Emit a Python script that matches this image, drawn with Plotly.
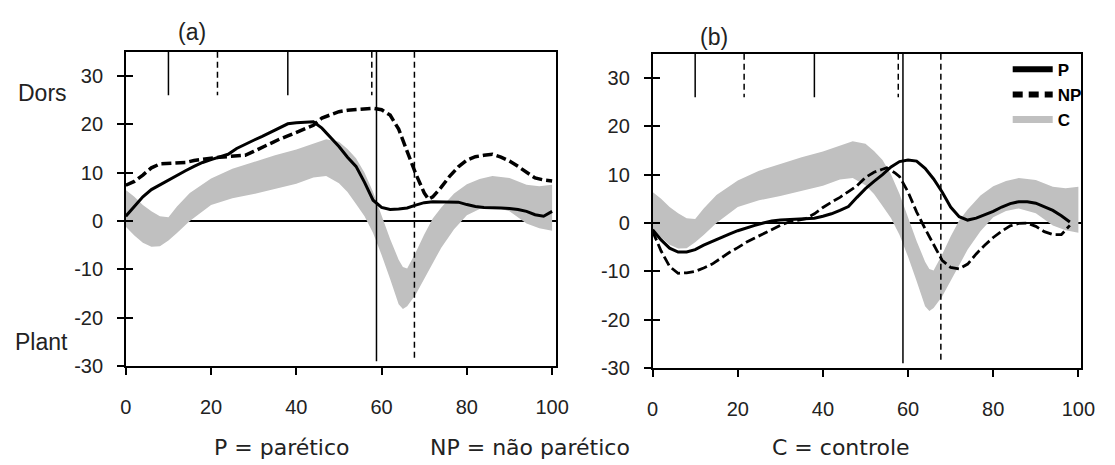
import plotly.graph_objects as go

# ---------------- data ----------------
# Panel (a): paretic (P) and non-paretic (NP) ankle angle, % of gait cycle
pa_x = [0, 2, 4, 6, 8, 10, 12, 14, 16, 18, 20, 22, 24, 26, 28, 30, 32, 34, 36, 38, 40, 42, 44,
        46, 48, 50, 52, 54, 56, 58, 60, 62, 64, 66, 68, 70, 72, 74, 76, 78, 80, 82, 84, 86, 88,
        90, 92, 94, 96, 98, 100]
pa_y = [1.0, 3.0, 5.0, 6.5, 7.5, 8.4, 9.5, 10.4, 11.3, 12.1, 12.7, 13.2, 13.8, 15.0, 15.9, 16.7,
        17.5, 18.4, 19.3, 20.1, 20.3, 20.4, 20.5, 19.2, 17.4, 15.4, 13.2, 11.3, 8.0, 4.3, 2.8, 2.4,
        2.5, 2.7, 3.3, 3.8, 4.0, 4.0, 4.0, 3.9, 3.4, 3.0, 2.8, 2.8, 2.7, 2.6, 2.4, 2.0, 1.3, 1.0, 2.0]

npa_x = [0, 2, 4, 6, 8, 10, 12, 14, 16, 18, 20, 22, 24, 26, 28, 30, 32, 34, 36, 38, 40, 42, 44,
         46, 48, 50, 52, 54, 56, 58, 60, 62, 64, 66, 68, 70, 71, 72, 74, 76, 78, 80, 82, 84, 86,
         88, 90, 92, 94, 96, 98, 100]
npa_y = [7.4, 8.2, 9.5, 11.0, 11.8, 11.9, 11.9, 12.1, 12.5, 12.8, 13.0, 13.2, 13.3, 13.4, 13.6,
         14.4, 15.3, 16.2, 16.9, 17.6, 18.3, 19.0, 19.8, 21.3, 22.0, 22.6, 22.9, 23.0, 23.2, 23.3,
         23.0, 21.9, 19.0, 14.2, 9.8, 5.8, 4.5, 5.0, 7.0, 9.3, 11.2, 12.6, 13.3, 13.6, 13.8, 13.2,
         12.4, 11.3, 10.0, 8.9, 8.5, 8.3]

# Panel (b)
pb_x = [0, 2, 4, 6, 8, 10, 12, 14, 16, 18, 20, 22, 24, 26, 28, 30, 32, 34, 36, 38, 40, 42, 44,
        46, 48, 50, 52, 54, 56, 58, 60, 62, 64, 66, 68, 70, 72, 74, 76, 78, 80, 82, 84, 86, 88,
        90, 92, 94, 96, 98]
pb_y = [-1.4, -3.5, -5.2, -6.0, -6.0, -5.5, -4.6, -3.8, -3.0, -2.3, -1.6, -1.0, -0.5, 0.0, 0.4,
        0.6, 0.7, 0.8, 0.9, 1.0, 1.4, 1.9, 2.6, 3.4, 5.3, 7.1, 8.6, 10.0, 11.6, 12.7, 13.0, 12.8,
        11.3, 9.1, 6.4, 3.3, 1.3, 0.6, 1.0, 1.7, 2.4, 3.3, 4.0, 4.4, 4.4, 4.1, 3.4, 2.6, 1.5, 0.2]

npb_x = [0, 2, 4, 6, 8, 10, 12, 14, 16, 18, 20, 22, 24, 26, 28, 30, 32, 34, 36, 38, 40, 42, 44,
         46, 48, 50, 52, 54, 55, 57, 58, 60, 62, 64, 66, 68, 70, 72, 74, 76, 78, 80, 82, 84, 86,
         88, 90, 92, 94, 96, 98]
npb_y = [-1.7, -5.8, -9.0, -10.4, -10.3, -10.0, -9.3, -8.5, -7.3, -6.1, -5.1, -4.0, -3.1, -2.2,
         -1.4, -0.5, 0.2, 0.6, 0.9, 1.9, 3.2, 4.3, 5.3, 6.5, 7.7, 9.4, 10.5, 11.1, 11.4, 10.3, 9.6,
         6.4, 2.3, -1.2, -4.3, -7.7, -9.2, -9.5, -8.5, -6.4, -4.6, -3.0, -1.7, -0.6, -0.1, 0.0,
         -0.7, -1.8, -2.4, -2.4, -0.5]

# Control group (C) band: upper and lower limits
c_x = [0, 2, 4, 6, 8, 10, 12, 15, 20, 25, 30, 35, 40, 44, 47, 50, 52, 54, 56, 58, 60, 62, 64,
       65, 66, 68, 70, 72, 74, 77, 80, 83, 86, 90, 94, 97, 100]
c_upper = [6.4, 5.0, 3.3, 2.0, 1.0, 0.8, 3.0, 5.8, 8.8, 10.8, 12.2, 13.6, 14.8, 16.0, 16.9, 16.4,
           14.9, 13.0, 10.0, 6.0, 1.1, -3.7, -8.0, -9.5, -9.8, -6.5, -2.8, 0.5, 2.8, 5.7, 7.6,
           8.7, 9.3, 8.9, 7.5, 7.2, 7.5]
c_lower = [-1.2, -3.0, -4.5, -5.3, -5.2, -4.0, -2.5, 0.0, 3.3, 4.7, 5.6, 6.7, 7.7, 9.0, 9.3, 7.8,
           6.0, 3.5, 1.0, -2.5, -7.0, -12.0, -17.2, -18.2, -17.6, -15.2, -12.0, -8.5, -5.5, -1.7,
           1.2, 2.5, 3.0, 2.0, -0.5, -1.5, -2.0]

# Gait events (% cycle): P events solid, NP events dashed
ev_p_short = [10, 38]
ev_np_short = [21.5, 57.7]
ev_p_full = 58.8
ev_np_full = 67.7
ev_top = 35
ev_short_bottom = 26
ev_full_bottom = -29

y_ticks = [-30, -20, -10, 0, 10, 20, 30]
y_ticktext = ["-30", "-20", "-10", "0", "10", "20", "30"]
x_ticks = [0, 20, 40, 60, 80, 100]

GRAY = "rgb(192,192,192)"
W, H = 1115, 465

fig = go.Figure()


def add_panel(xa, ya, ya_ev, p_x, p_y, np_x, np_y, np_width):
    # control band
    fig.add_trace(go.Scatter(x=c_x, y=c_lower, mode="lines", line=dict(width=0, color=GRAY),
                             xaxis=xa, yaxis=ya, showlegend=False, hoverinfo="skip"))
    fig.add_trace(go.Scatter(x=c_x, y=c_upper, mode="lines", line=dict(width=0, color=GRAY),
                             fill="tonexty", fillcolor=GRAY, xaxis=xa, yaxis=ya,
                             showlegend=False, hoverinfo="skip"))
    # events
    for ex in ev_p_short:
        fig.add_trace(go.Scatter(x=[ex, ex], y=[ev_top, ev_short_bottom], mode="lines",
                                 line=dict(color="black", width=1.5), xaxis=xa, yaxis=ya_ev,
                                 showlegend=False, hoverinfo="skip"))
    for ex in ev_np_short:
        fig.add_trace(go.Scatter(x=[ex, ex], y=[ev_top, ev_short_bottom], mode="lines",
                                 line=dict(color="black", width=1.5, dash="6px,4px"),
                                 xaxis=xa, yaxis=ya_ev, showlegend=False, hoverinfo="skip"))
    fig.add_trace(go.Scatter(x=[ev_p_full, ev_p_full], y=[ev_top, ev_full_bottom], mode="lines",
                             line=dict(color="black", width=1.5), xaxis=xa, yaxis=ya_ev,
                             showlegend=False, hoverinfo="skip"))
    fig.add_trace(go.Scatter(x=[ev_np_full, ev_np_full], y=[ev_top, ev_full_bottom],
                             mode="lines", line=dict(color="black", width=1.5, dash="6px,4px"),
                             xaxis=xa, yaxis=ya_ev, showlegend=False, hoverinfo="skip"))
    # curves
    fig.add_trace(go.Scatter(x=np_x, y=np_y, mode="lines",
                             line=dict(color="black", width=np_width, dash="10px,4px"),
                             xaxis=xa, yaxis=ya, showlegend=False))
    fig.add_trace(go.Scatter(x=p_x, y=p_y, mode="lines", line=dict(color="black", width=3),
                             xaxis=xa, yaxis=ya, showlegend=False))


add_panel("x", "y", "y3", pa_x, pa_y, npa_x, npa_y, 3.5)
add_panel("x2", "y2", "y4", pb_x, pb_y, npb_x, npb_y, 2.8)

# legend entries (symbols only)
fig.add_trace(go.Scatter(x=[None], y=[None], mode="lines", name="P",
                         line=dict(color="black", width=6), xaxis="x2", yaxis="y2"))
fig.add_trace(go.Scatter(x=[None], y=[None], mode="lines", name="NP",
                         line=dict(color="black", width=6, dash="10px,6px"), xaxis="x2", yaxis="y2"))
fig.add_trace(go.Scatter(x=[None], y=[None], mode="lines", name="C",
                         line=dict(color=GRAY, width=7), xaxis="x2", yaxis="y2"))

tickfont = dict(family="Liberation Sans, Arial, sans-serif", size=20, color="#222")


def xaxis_cfg(domain, rng, anchor):
    return dict(domain=domain, range=rng, anchor=anchor, tickvals=x_ticks, ticks="outside",
                ticklen=7, tickwidth=1.5, tickcolor="black", showline=True, mirror=True,
                linecolor="black", linewidth=1.5, showgrid=False, zeroline=False,
                tickfont=tickfont, ticklabelstandoff=15, fixedrange=True)


def yaxis_cfg(domain, anchor):
    return dict(domain=domain, range=[-30, 35], anchor=anchor, tickvals=y_ticks,
                ticktext=y_ticktext, ticks="outside", ticklen=7, tickwidth=1.5,
                tickcolor="black", showline=True, mirror=True, linecolor="black",
                linewidth=1.5, showgrid=False, zeroline=True, zerolinecolor="black",
                zerolinewidth=1.5, tickfont=tickfont, ticklabelstandoff=10,
                layer="above traces", fixedrange=True)


def yaxis_inner(over, anchor):
    return dict(overlaying=over, anchor=anchor, range=[-30, 35], tickvals=y_ticks,
                ticks="inside", ticklen=7, tickwidth=1.5, tickcolor="black",
                showticklabels=False, showline=False, showgrid=False, zeroline=False,
                fixedrange=True)


ya_dom = [1 - 375 / H, 1 - 53 / H]
yb_dom = [1 - 377 / H, 1 - 55 / H]

fig.update_layout(
    width=W, height=H,
    margin=dict(l=0, r=0, t=0, b=0),
    paper_bgcolor="white", plot_bgcolor="white",
    xaxis=xaxis_cfg([122 / W, 560 / W], [0, 100.9], "y"),
    yaxis=yaxis_cfg(ya_dom, "x"),
    xaxis2=xaxis_cfg([658.4 / W, 1095 / W], [0, 100.7], "y2"),
    yaxis2=yaxis_cfg(yb_dom, "x2"),
    yaxis3=yaxis_inner("y", "x"),
    yaxis4=yaxis_inner("y2", "x2"),
    showlegend=True,
    legend=dict(x=1020 / W, y=1 - 53 / H, xanchor="left", yanchor="top",
                bgcolor="rgba(0,0,0,0)", itemwidth=40, tracegroupgap=0,
                traceorder="normal",
                font=dict(family="Liberation Sans, Arial, sans-serif", size=17, color="black",
                          weight="bold")),
)

annot_font = dict(family="Liberation Sans, Arial, sans-serif", size=23, color="#222")
bottom_font = dict(family="DejaVu Sans, sans-serif", size=22, color="#222")
annots = [
    ("(a)", 189, 33, annot_font),
    ("(b)", 721, 38, annot_font),
    ("Dors", 37, 95, annot_font),
    ("Plant", 36, 350, annot_font),
    ("P = parético", 281, 458, bottom_font),
    ("NP = não parético", 534, 458, bottom_font),
    ("C = controle", 850, 458, bottom_font),
]
for text, px, py, f in annots:
    fig.add_annotation(text=text, x=px / W, y=1 - py / H, xref="paper", yref="paper",
                       xanchor="center", yanchor="middle", showarrow=False, font=f)

fig.write_html("out.html")
